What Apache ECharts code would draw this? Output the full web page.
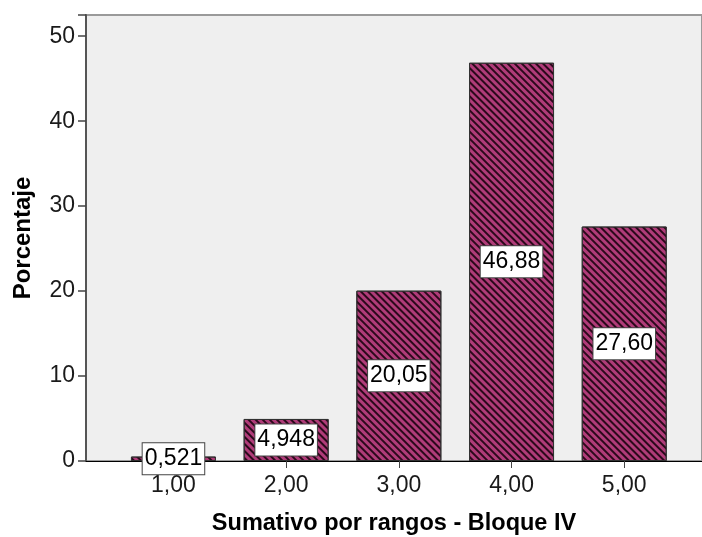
<!DOCTYPE html>
<html>
<head>
<meta charset="utf-8">
<script src="https://cdn.jsdelivr.net/npm/echarts@6/dist/echarts.min.js"></script>
<style>html,body{margin:0;padding:0;background:#fff}#c{width:702px;height:537px}</style>
</head>
<body>
<div id="c"></div>
<script>
var categories = ["1,00", "2,00", "3,00", "4,00", "5,00"];
var positions = [1, 2, 3, 4, 5];
var values = [0.521, 4.948, 20.05, 46.88, 27.60];
var valueLabels = ["0,521", "4,948", "20,05", "46,88", "27,60"];
var yTicks = [0, 10, 20, 30, 40, 50];
var xTitle = "Sumativo por rangos - Bloque IV";
var yTitle = "Porcentaje";

var chart = echarts.init(document.getElementById('c'), null, {renderer: 'canvas'});
var FONT = 'Liberation Sans, Arial, sans-serif';
var data = values.map(function (v, i) { return [positions[i], v]; });

chart.setOption({
  animation: false,
  backgroundColor: '#ffffff',
  grid: {
    left: 86, right: 0, top: 15, bottom: 76,
    outerBoundsMode: 'none', containLabel: false,
    show: true, backgroundColor: '#efefef', borderColor: '#9a9a9a', borderWidth: 2
  },
  xAxis: {
    type: 'value', min: 0.224, max: 5.69,
    name: xTitle, nameLocation: 'middle', nameGap: 51,
    nameTextStyle: {fontFamily: FONT, fontWeight: 'bold', fontSize: 23.5, color: '#000'},
    axisLine: {show: true, lineStyle: {color: '#000', width: 1}},
    axisTick: {show: true, customValues: positions, length: 7, lineStyle: {color: '#444'}},
    axisLabel: {
      customValues: positions, margin: 13, fontFamily: FONT, fontSize: 23, color: '#1a1a1a',
      formatter: function (v) { var i = positions.indexOf(Math.round(v)); return i >= 0 ? categories[i] : ''; }
    },
    splitLine: {show: false}
  },
  yAxis: {
    type: 'value', min: 0, max: 52.5, interval: 10,
    name: yTitle, nameLocation: 'middle', nameGap: 51, nameRotate: 90,
    nameTextStyle: {fontFamily: FONT, fontWeight: 'bold', fontSize: 24, color: '#000'},
    axisLine: {show: true, lineStyle: {color: '#555', width: 2}},
    axisTick: {show: true, length: 8, lineStyle: {color: '#444', width: 1.5}},
    axisLabel: {
      customValues: yTicks, margin: 11, fontFamily: FONT, fontSize: 23, color: '#1a1a1a',
      formatter: function (v) { return String(v); }
    },
    splitLine: {show: false}
  },
  series: [{
    type: 'bar',
    data: data,
    barWidth: 85,
    itemStyle: {
      color: '#b03c79',
      borderColor: '#333',
      borderWidth: 1,
      decal: {
        symbol: 'rect', symbolSize: 1, color: 'rgba(20,0,10,0.85)',
        dashArrayX: [1, 0], dashArrayY: [1.5, 2.8], rotation: Math.PI / 4
      }
    },
    label: {
      show: true, position: 'inside',
      formatter: function (p) { return valueLabels[p.dataIndex]; },
      fontFamily: FONT, fontSize: 23, lineHeight: 25, color: '#000',
      backgroundColor: '#fff', borderColor: '#444', borderWidth: 1,
      padding: [4, 2, 2, 2]
    }
  }]
});
</script>
</body>
</html>
